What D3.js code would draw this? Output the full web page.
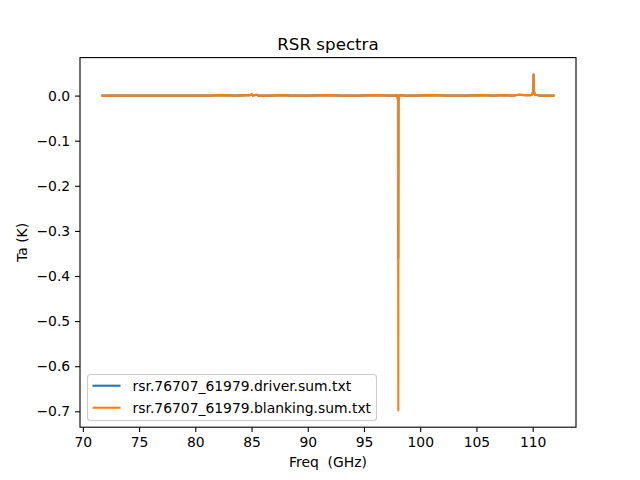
<!DOCTYPE html>
<meta charset="utf-8">
<style>
  body { margin: 0; background: #fff; }
  svg text { font-family: "DejaVu Sans", sans-serif; fill: #000; }
  .axis path, .axis line { stroke: #000; stroke-width: 1.1; }
  .axis text { font-size: 13.9px; }
</style>
<svg width="640" height="480"></svg>
<script src="https://cdn.jsdelivr.net/npm/d3@7"></script>
<script>

// spectra (GHz, K)
var freq = [71.75, 73, 75, 77, 79, 81, 82.6, 83.5, 84.9, 85.0, 85.1, 85.5, 85.6, 86.5, 88, 88.4,
            90, 91.5, 93, 94.5, 96, 97.2, 97.95, 98.03, 98.05, 98.07, 98.15, 98.6, 99.5, 101, 102.5,
            104, 105.5, 106.5, 107.5, 108.2, 108.8, 109.3, 109.8, 109.95, 110.05, 110.08, 110.11,
            110.2, 110.6, 111.2, 111.85];
var taDriver = [0, 0, 0, 0, 0, 0, 0.001, 0, 0.001, 0.003, 0, 0.002, 0, 0, 0.001, 0,
                0, 0.001, 0, 0, 0.001, 0, 0, -0.01, -0.36, -0.01, 0.001, 0, 0, 0.001, 0,
                0, 0.001, 0, 0.001, 0, 0.002, 0.001, 0.001, 0.002, 0.01, 0.046, 0.01,
                0.002, 0, 0, 0];
var taBlanking = [0, 0, 0, 0, 0, 0, 0.001, 0, 0.001, 0.003, 0, 0.002, 0, 0, 0.001, 0,
                  0, 0.001, 0, 0, 0.001, 0, 0.001, -0.01, -0.698, -0.01, 0.001, 0, 0, 0.001, 0,
                  0, 0.001, 0, 0.001, 0, 0.002, 0.001, 0.001, 0.002, 0.01, 0.047, 0.01,
                  0.002, 0, 0, 0];
var seriesNames = ["rsr.76707_61979.driver.sum.txt", "rsr.76707_61979.blanking.sum.txt"];
var seriesColors = ["#1f77b4", "#ff7f0e"];
var xTicks = [70, 75, 80, 85, 90, 95, 100, 105, 110];
var yTicks = [0, -0.1, -0.2, -0.3, -0.4, -0.5, -0.6, -0.7];

var svg = d3.select("svg"),
    axL = 80, axR = 576, axT = 57.6, axB = 427.2;

// matplotlib-like 5% margins
function padded(ext) {
  var d = (ext[1] - ext[0]) * 0.05;
  return [ext[0] - d, ext[1] + d];
}

var allTa = taDriver.concat(taBlanking);
var x = d3.scaleLinear().domain(padded(d3.extent(freq))).range([axL, axR]);
var y = d3.scaleLinear().domain(padded(d3.extent(allTa))).range([axB, axT]);

var series = [taDriver, taBlanking].map(function(ta, i) {
  return { name: seriesNames[i], color: seriesColors[i],
           pts: freq.map(function(f, j) { return [f, ta[j]]; }) };
});

var line = d3.line().x(function(d) { return x(d[0]); }).y(function(d) { return y(d[1]); });

svg.append("clipPath").attr("id", "clip")
  .append("rect").attr("x", axL).attr("y", axT).attr("width", axR - axL).attr("height", axB - axT);

svg.append("g").attr("clip-path", "url(#clip)")
  .selectAll("path").data(series).enter().append("path")
    .attr("d", function(d) { return line(d.pts); })
    .attr("fill", "none")
    .attr("stroke", function(d) { return d.color; })
    .attr("stroke-width", 2.08)
    .attr("stroke-linejoin", "round")
    .attr("stroke-linecap", "square");

var fmt = d3.format(".1f");

svg.append("g").attr("class", "axis")
    .attr("transform", "translate(0," + axB + ")")
    .call(d3.axisBottom(x).tickValues(xTicks).tickFormat(d3.format("d")).tickSize(4.9).tickPadding(4.9))
    .call(function(g) { g.select(".domain").remove(); });

svg.append("g").attr("class", "axis")
    .attr("transform", "translate(" + axL + ",0)")
    .call(d3.axisLeft(y).tickValues(yTicks).tickFormat(fmt).tickSize(4.9).tickPadding(4.9))
    .call(function(g) { g.select(".domain").remove(); });

svg.append("rect")
    .attr("x", axL).attr("y", axT).attr("width", axR - axL).attr("height", axB - axT)
    .attr("fill", "none").attr("stroke", "#000").attr("stroke-width", 1.1);

svg.append("text").attr("x", (axL + axR) / 2).attr("y", 50)
    .attr("text-anchor", "middle").style("font-size", "16.7px").text("RSR spectra");

svg.append("text").attr("x", (axL + axR) / 2).attr("y", 467)
    .attr("text-anchor", "middle").style("font-size", "13.9px").style("white-space", "pre")
    .attr("xml:space", "preserve").text("Freq  (GHz)");

svg.append("text").attr("transform", "translate(27," + (axT + axB) / 2 + ") rotate(-90)")
    .attr("text-anchor", "middle").style("font-size", "13.9px").text("Ta (K)");

// legend, lower left
var lg = svg.append("g").attr("transform", "translate(87,374)");
lg.append("rect").attr("x", 0.5).attr("y", 0.5).attr("width", 289).attr("height", 46).attr("rx", 3)
    .attr("fill", "#fff").attr("fill-opacity", 0.8).attr("stroke", "#ccc").attr("stroke-width", 1.1);
var item = lg.selectAll(".item").data(series).enter().append("g")
    .attr("transform", function(d, i) { return "translate(0," + (11.7 + i * 22) + ")"; });
item.append("line").attr("x1", 5.5).attr("x2", 33.5).attr("y1", 0).attr("y2", 0)
    .attr("stroke", function(d) { return d.color; }).attr("stroke-width", 2.08);
item.append("text").attr("x", 45.5).attr("y", 5).style("font-size", "13.9px").text(function(d) { return d.name; });

</script>
